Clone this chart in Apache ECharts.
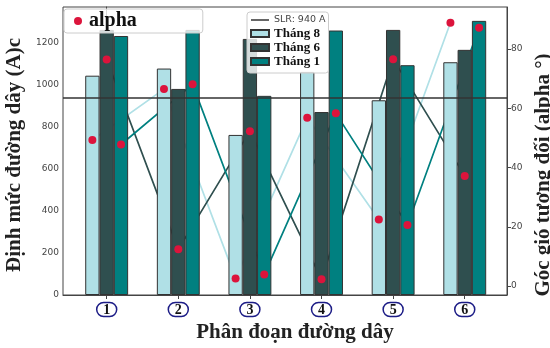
<!DOCTYPE html>
<html>
<head>
<meta charset="utf-8">
<script src="https://cdn.jsdelivr.net/npm/echarts@6/dist/echarts.min.js"></script>
<style>html,body{margin:0;padding:0;background:#fff}#c{width:550px;height:348px}</style>
</head>
<body>
<div id="c"></div>
<script>
const categories = ['1', '2', '3', '4', '5', '6'];
const thang8 = [1044, 1078, 762, 1062, 927, 1108];
const thang6 = [1262, 981, 1219, 871, 1262, 1167];
const thang1 = [1233, 1262, 948, 1259, 1094, 1305];
const alpha8 = [49.3, 66.5, 2.6, 56.8, 22.5, 88.9];
const alpha6 = [76.5, 12.4, 52.3, 2.3, 76.6, 37.2];
const alpha1 = [47.8, 68.1, 3.9, 58.3, 20.6, 87.2];
const slrValue = 940;
const slrName = 'SLR: 940 A';
const leftTicks = [0, 200, 400, 600, 800, 1000, 1200];
const rightTicks = [0, 20, 40, 60, 80];
const seriesNames = ['Tháng 8', 'Tháng 6', 'Tháng 1'];

const SERIF = 'Liberation Serif';
const SANS = 'DejaVu Sans';
const colors = ['#b0e0e6', '#2f4f4f', '#008080'];
const offsets = [-0.2, 0, 0.2];
const barVals = [thang8, thang6, thang1];
const alphaVals = [alpha8, alpha6, alpha1];
const catIdx = categories.map((c, i) => i);

const series = [];
series.push({
  name: slrName, type: 'line', data: [], symbol: 'none',
  lineStyle: { color: '#333', width: 1.5 }, itemStyle: { color: '#333' },
  markLine: {
    silent: true, symbol: ['none', 'none'], label: { show: false },
    lineStyle: { color: '#333', width: 1.5, type: 'solid' },
    data: [{ yAxis: slrValue }], z: 6
  }
});
barVals.forEach((vals, k) => {
  series.push({
    name: seriesNames[k], type: 'bar', barWidth: 14.3, barGap: '0%', z: 2,
    itemStyle: { color: colors[k], borderColor: '#333', borderWidth: 1 },
    data: catIdx.map(i => [i, vals[i]])
  });
});
alphaVals.forEach((vals, k) => {
  series.push({
    name: 'line-' + seriesNames[k], type: 'line', yAxisIndex: 1, symbol: 'none', z: 1,
    lineStyle: { color: colors[k], width: 1.7 },
    data: catIdx.map(i => [i + offsets[k], vals[i]])
  });
});
const dots = [];
catIdx.forEach(i => alphaVals.forEach((vals, k) => dots.push([i + offsets[k], vals[i]])));
series.push({
  name: 'alpha', type: 'scatter', yAxisIndex: 1, symbol: 'circle', symbolSize: 8, z: 5,
  itemStyle: { color: '#dc143c', opacity: 1 }, data: dots
});

const chart = echarts.init(document.getElementById('c'), null, { renderer: 'canvas' });
chart.setOption({
  animation: false,
  grid: { left: 63, right: 43, top: 7, bottom: 53, show: true, borderColor: '#444', borderWidth: 1, containLabel: false, outerBoundsMode: 'none' },
  legend: [
    {
      orient: 'horizontal', left: 64, top: 9,
      padding: [2, 66, 2, 10], itemWidth: 12, itemHeight: 8, icon: 'circle',
      backgroundColor: 'rgba(255,255,255,0.8)', borderColor: '#ccc', borderWidth: 1, borderRadius: 3,
      selectedMode: false, itemStyle: { opacity: 1 },
      data: [{ name: 'alpha', textStyle: { fontFamily: SERIF, fontWeight: 'bold', fontSize: 20, color: '#111', lineHeight: 15 } }]
    },
    {
      orient: 'vertical', left: 247, top: 12, itemGap: 1,
      padding: [2, 3, 5, 3], itemWidth: 18, itemHeight: 7,
      backgroundColor: 'rgba(255,255,255,0.8)', borderColor: '#ccc', borderWidth: 1, borderRadius: 3,
      selectedMode: false,
      data: [
        { name: slrName, icon: 'path://M0,0H36V3H0Z', textStyle: { fontFamily: SANS, fontSize: 9.5, color: '#444', lineHeight: 12 } },
        { name: seriesNames[0], icon: 'rect', textStyle: { fontFamily: SERIF, fontWeight: 'bold', fontSize: 13, color: '#111', lineHeight: 12 } },
        { name: seriesNames[1], icon: 'rect', textStyle: { fontFamily: SERIF, fontWeight: 'bold', fontSize: 13, color: '#111', lineHeight: 12 } },
        { name: seriesNames[2], icon: 'rect', textStyle: { fontFamily: SERIF, fontWeight: 'bold', fontSize: 13, color: '#111', lineHeight: 12 } }
      ]
    }
  ],
  xAxis: {
    type: 'value', min: -0.61, max: 5.59,
    name: 'Phân đoạn đường dây', nameLocation: 'middle', nameGap: 27,
    nameTextStyle: { fontFamily: SERIF, fontWeight: 'bold', fontSize: 21, color: '#222', padding: [0, 0, 0, 20] },
    splitLine: { show: false },
    axisLine: { show: true, lineStyle: { color: '#444' } },
    axisTick: { show: true, customValues: catIdx, length: 4, lineStyle: { color: '#444' } },
    axisLabel: {
      customValues: catIdx, margin: 8,
      formatter: v => '{c|' + categories[Math.round(v)] + '}',
      rich: {
        c: {
          width: 18, height: 13, lineHeight: 13, align: 'center', verticalAlign: 'middle',
          padding: [1, 1, 0, 1],
          borderColor: '#1c1c86', borderWidth: 1.5, borderRadius: 8,
          fontFamily: SERIF, fontWeight: 'bold', fontSize: 14, color: '#111'
        }
      }
    }
  },
  yAxis: [
    {
      type: 'value', min: 0, max: 1371, position: 'left',
      name: 'Định mức đường dây (A)c', nameLocation: 'middle', nameRotate: 90, nameGap: 37,
      nameTextStyle: { fontFamily: SERIF, fontWeight: 'bold', fontSize: 21, color: '#222', padding: [0, 8, 0, 0] },
      splitLine: { show: false },
      axisLine: { show: true, lineStyle: { color: '#444' } },
      axisTick: { show: true, customValues: leftTicks, length: 4, lineStyle: { color: '#444' } },
      axisLabel: { customValues: leftTicks, margin: 4, fontFamily: SANS, fontSize: 9, color: '#444', formatter: v => String(v) }
    },
    {
      type: 'value', min: -3, max: 94.2, position: 'right',
      name: 'Góc gió tương đối (alpha °)', nameLocation: 'middle', nameRotate: 90, nameGap: 25,
      nameTextStyle: { fontFamily: SERIF, fontWeight: 'bold', fontSize: 21, color: '#222', padding: [0, 48, 0, 0] },
      splitLine: { show: false },
      axisLine: { show: true, lineStyle: { color: '#444' } },
      axisTick: { show: true, customValues: rightTicks, length: 4, lineStyle: { color: '#444' } },
      axisLabel: { customValues: rightTicks, margin: 4, fontFamily: SANS, fontSize: 9, color: '#444', formatter: v => String(v) }
    }
  ],
  series: series
});
</script>
</body>
</html>
